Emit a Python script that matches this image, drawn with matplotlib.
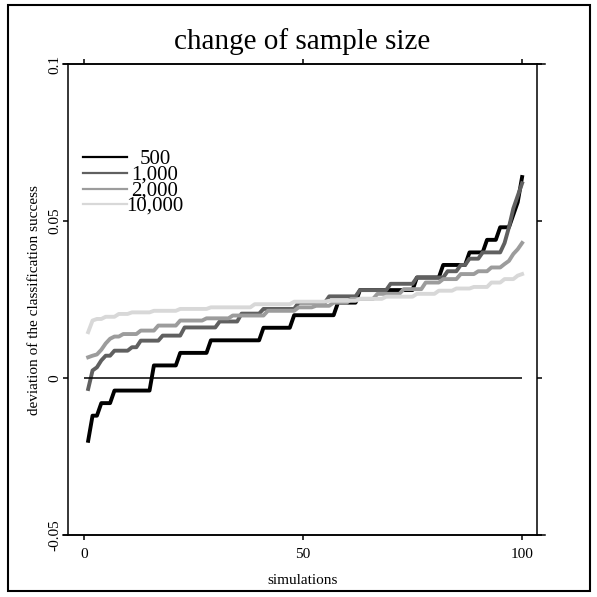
import numpy as np
import matplotlib
matplotlib.use("Agg")
import matplotlib.pyplot as plt

plt.rcParams['font.family'] = ['Liberation Serif', 'DejaVu Serif']

sim = np.arange(1, 101)

levels_500 = [-0.020, -0.012, -0.008, -0.004, 0.004, 0.008, 0.012, 0.016, 0.020, 0.024,
              0.028, 0.032, 0.036, 0.040, 0.044, 0.048, 0.052, 0.056, 0.064]
runs_500 = [1, 2, 3, 9, 6, 7, 12, 7, 10, 5, 13, 6, 6, 4, 3, 3, 1, 1, 1]

levels_1000 = [-0.0035, 0.0024, 0.0034, 0.0056, 0.0071, 0.0087, 0.0098, 0.0119, 0.0135, 0.0161,
               0.018, 0.0205, 0.022, 0.024, 0.026, 0.028, 0.030, 0.032, 0.034, 0.036,
               0.038, 0.040, 0.043, 0.048, 0.054, 0.058, 0.062]
runs_1000 = [1, 1, 1, 1, 2, 4, 2, 5, 5, 8, 5, 5, 8, 7, 7, 7, 6, 7, 3, 2, 3, 5, 1, 1, 1, 1, 1]

levels_2000 = [0.0066, 0.0071, 0.0075, 0.009, 0.011, 0.0125, 0.0132, 0.014, 0.0151, 0.0167,
               0.0183, 0.019, 0.0199, 0.0214, 0.0225, 0.023, 0.024, 0.0252, 0.0268, 0.0283,
               0.0304, 0.0315, 0.0331, 0.034, 0.0352, 0.0363, 0.0373, 0.0395, 0.041, 0.043]
runs_2000 = [1, 1, 1, 1, 1, 1, 2, 4, 4, 5, 6, 6, 8, 7, 4, 4, 4, 6, 6, 5, 4, 4, 4, 3, 3, 1, 1, 1, 1, 1]

levels_10000 = [0.0146, 0.0183, 0.0188, 0.0195, 0.0204, 0.0209, 0.0214, 0.022, 0.0225, 0.0235,
                0.0243, 0.0246, 0.0252, 0.0259, 0.0268, 0.0278, 0.0285, 0.029, 0.0304, 0.0315,
                0.0326, 0.0331]
runs_10000 = [1, 1, 2, 3, 3, 5, 6, 7, 10, 9, 8, 7, 6, 7, 5, 4, 4, 4, 3, 3, 1, 1]

labels = ['500', '1,000', '2,000', '10,000']
colors = ['#000000', '#606060', '#9c9c9c', '#d8d8d8']
series = [np.repeat(levels_500, runs_500), np.repeat(levels_1000, runs_1000),
          np.repeat(levels_2000, runs_2000), np.repeat(levels_10000, runs_10000)]

xticks = [0, 50, 100]
yticks = [-0.05, 0, 0.05, 0.1]
ytick_labels = ['-0.05', '0', '0.05', '0.1']

W = 597.0
fig = plt.figure(figsize=(5.97, 5.97), dpi=100)
ax = fig.add_axes([68 / W, 1 - 535 / W, (537 - 68) / W, (535 - 64) / W])

for vals, col in zip(series, colors):
    ax.plot(sim, vals, color=col, lw=2.8)

ax.hlines(0, 0, sim[-1], color='black', lw=1.1)

ax.set_xlim(-3.6, 103.4)
ax.set_ylim(-0.05, 0.1)
ax.set_xticks(xticks)
ax.set_xticklabels([str(t) for t in xticks])
ax.set_yticks(yticks)
ax.set_yticklabels(ytick_labels, rotation=90, va='center')
ax.tick_params(direction='out', length=3.6, width=1.1, top=True, right=True, labelsize=11)
ax.tick_params(axis='x', pad=6)
ax.tick_params(axis='y', pad=1.5)
for s in ax.spines.values():
    s.set_linewidth(1.1)
# horizontal axis lines run a little past the box
for yy in (0, 1):
    ax.plot([-0.011, 1.017], [yy, yy], transform=ax.transAxes, clip_on=False, color='black', lw=1.1)

# legend drawn by hand
leg_y = [157, 173, 189, 204]
for yy, col, lab in zip(leg_y, colors, labels):
    fig.add_artist(plt.Line2D([83 / W, 127 / W], [1 - yy / W, 1 - yy / W], color=col, lw=1.6))
    fig.text(155 / W, 1 - (yy + 7) / W, lab, ha='center', va='baseline', fontsize=15)

fig.text(302.5 / W, 1 - 42 / W, 'change of sample size', ha='center', va='center', fontsize=21)
fig.text(302.5 / W, 1 - 580 / W, 'simulations', ha='center', va='center', fontsize=11)
fig.text(35 / W, 1 - 300 / W, 'deviation of the classification success', ha='center', va='center',
         rotation=90, fontsize=11)

fig.add_artist(plt.Rectangle((8 / W, 1 - 591 / W), (590 - 8) / W, (591 - 5) / W, fill=False,
                             lw=1.5, color='black', transform=fig.transFigure))

plt.savefig('out.png', dpi=100)
